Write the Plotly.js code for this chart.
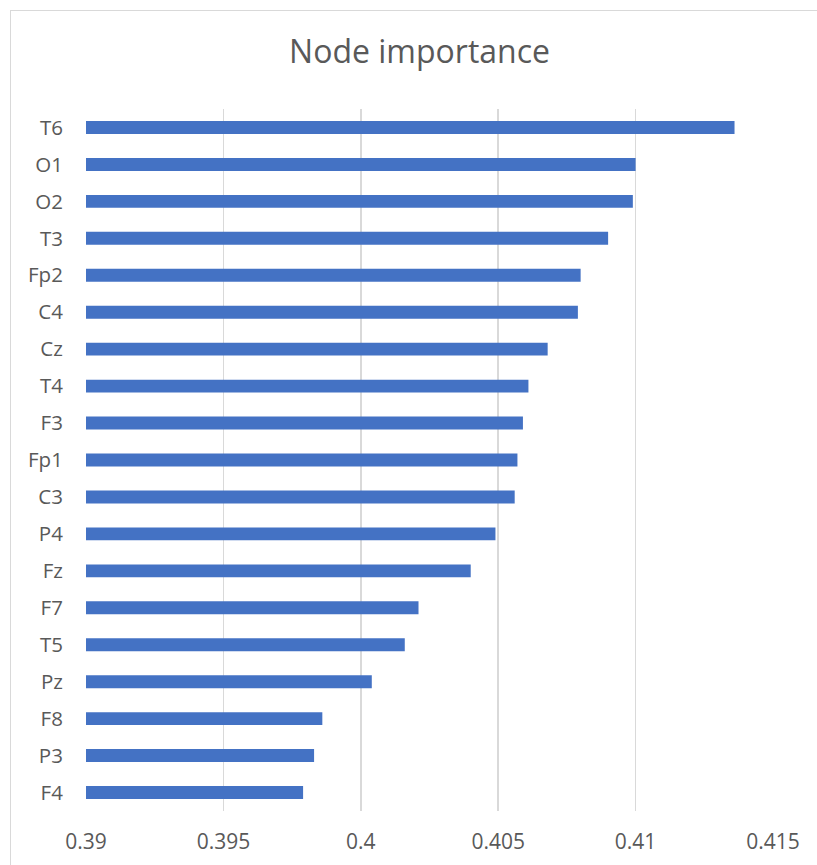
<!DOCTYPE html>
<html>
<head>
<meta charset="utf-8">
<script src="https://cdn.plot.ly/plotly-3.0.1.min.js"></script>
<style>
  html, body { margin: 0; padding: 0; background: #ffffff; overflow: hidden; }
  #chart { width: 817px; height: 865px; }
  #frame {
    position: absolute; left: 10px; top: 10px;
    width: 860px; height: 900px;
    border: 1px solid #d9d9d9; box-sizing: border-box;
    pointer-events: none; z-index: 10;
  }
</style>
</head>
<body>
<div id="chart"></div>
<div id="frame"></div>
<script>
// EEG channels, listed top to bottom
const channels = ["T6", "O1", "O2", "T3", "Fp2", "C4", "Cz", "T4", "F3", "Fp1",
                  "C3", "P4", "Fz", "F7", "T5", "Pz", "F8", "P3", "F4"];

// importance score per channel
const importance = [0.4136, 0.4100, 0.4099, 0.4090, 0.4080, 0.4079, 0.4068, 0.4061, 0.4059, 0.4057,
                    0.4056, 0.4049, 0.4040, 0.4021, 0.4016, 0.4004, 0.3986, 0.3983, 0.3979];

// value axis ticks
const xTickVals = [0.39, 0.395, 0.4, 0.405, 0.41, 0.415];
const xTickText = ["0.39", "0.395", "0.4", "0.405", "0.41", "0.415"];

const textColor = "#595959";
const gridColor = "#d9d9d9";
const fontFamily = "'Open Sans', 'Noto Sans', sans-serif";

const trace = {
  type: "bar",
  orientation: "h",
  x: importance,
  y: channels,
  marker: { color: "#4472C4" },
  hoverinfo: "x+y"
};

const layout = {
  width: 817,
  height: 865,
  margin: { l: 86, r: 44, t: 109, b: 54 },
  paper_bgcolor: "#ffffff",
  plot_bgcolor: "#ffffff",
  bargap: 0.65,
  showlegend: false,
  title: {
    text: "Node importance",
    font: { family: fontFamily, size: 32, color: textColor },
    xref: "container", x: 0.5135, xanchor: "center",
    yref: "container", y: 1 - 52 / 865, yanchor: "middle"
  },
  xaxis: {
    range: [0.39, 0.415],
    tickvals: xTickVals,
    ticktext: xTickText,
    showgrid: true,
    gridcolor: gridColor,
    gridwidth: 1.6,
    zeroline: false,
    showline: false,
    ticks: "outside",
    ticklen: 12,
    tickcolor: "rgba(0,0,0,0)",
    tickfont: { family: fontFamily, size: 21, color: textColor },
    fixedrange: true
  },
  yaxis: {
    type: "category",
    categoryorder: "array",
    categoryarray: channels,
    autorange: "reversed",
    showgrid: false,
    zeroline: false,
    showline: false,
    ticks: "outside",
    ticklen: 18,
    tickcolor: "rgba(0,0,0,0)",
    tickfont: { family: fontFamily, size: 20.5, color: textColor },
    fixedrange: true
  }
};

Plotly.newPlot("chart", [trace], layout, { displayModeBar: false, staticPlot: true });
</script>
</body>
</html>
